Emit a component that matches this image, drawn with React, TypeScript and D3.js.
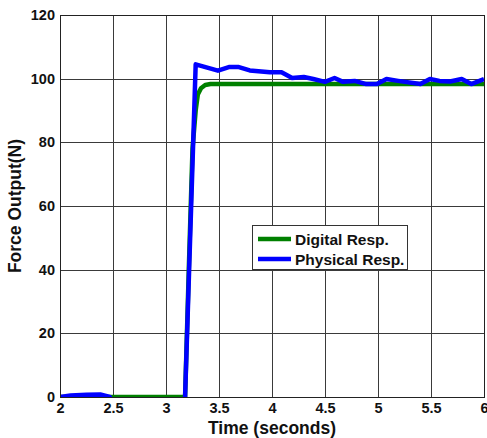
import React, { useEffect, useRef } from 'react'
import * as d3 from 'd3'

// time in seconds, force in N
const digitalT = [2, 3.18, 3.215, 3.25, 3.28, 3.3, 3.33, 3.37, 3.42, 6]
const digitalF = [0, 0, 40, 78, 90, 95, 97, 98, 98.3, 98.3]

const physicalT = [2, 2.1, 2.25, 2.38, 2.47, 2.5, 3.17, 3.18, 3.28, 3.49, 3.6, 3.68, 3.79, 3.98, 4.09, 4.19, 4.3, 4.39, 4.5, 4.59, 4.67, 4.78, 4.89, 4.99, 5.08, 5.19, 5.4, 5.49, 5.58, 5.68, 5.79, 5.88, 6]
const physicalF = [0, 0.5, 0.7, 0.8, 0, -2, -2, 0, 104.5, 102.5, 103.7, 103.7, 102.6, 102, 102, 100.2, 100.5, 99.9, 99, 100.2, 99, 99.3, 98.3, 98.3, 99.9, 99.3, 98.3, 99.9, 99.3, 99.1, 99.9, 98.3, 99.9]

const xTicks = [2, 2.5, 3, 3.5, 4, 4.5, 5, 5.5, 6]
const yTicks = [0, 20, 40, 60, 80, 100, 120]

const series = [
  { name: 'Digital Resp.', color: '#008000', t: digitalT, f: digitalF },
  { name: 'Physical Resp.', color: '#0000ff', t: physicalT, f: physicalF },
]

const App = () => {
  const ref = useRef<SVGSVGElement>(null)

  useEffect(() => {
    const svg = d3.select(ref.current)
    svg.selectAll('*').remove()

    const left = 60, right = 484, top = 15, bottom = 397
    const x = d3.scaleLinear().domain([2, 6]).range([left, right])
    const y = d3.scaleLinear().domain([0, 120]).range([bottom, top])
    const font = 'Arial, "Liberation Sans", sans-serif'

    svg.append('rect').attr('width', 487).attr('height', 438).attr('fill', '#fff')

    svg.append('defs').append('clipPath').attr('id', 'plot-clip')
      .append('rect')
      .attr('x', left).attr('y', top)
      .attr('width', right - left).attr('height', bottom - top)

    // grid
    const grid = svg.append('g').attr('stroke', '#3a3a3a').attr('stroke-width', 1)
    xTicks.forEach(t => {
      grid.append('line')
        .attr('x1', Math.round(x(t)) + 0.5).attr('x2', Math.round(x(t)) + 0.5)
        .attr('y1', top).attr('y2', bottom)
    })
    yTicks.forEach(t => {
      grid.append('line')
        .attr('x1', left).attr('x2', right)
        .attr('y1', Math.round(y(t)) + 0.5).attr('y2', Math.round(y(t)) + 0.5)
    })

    // lines
    const plot = svg.append('g').attr('clip-path', 'url(#plot-clip)')
    series.forEach(s => {
      const pts: [number, number][] = s.t.map((t, i) => [t, s.f[i]])
      const line = d3.line<[number, number]>().x(d => x(d[0])).y(d => y(d[1]))
      plot.append('path')
        .attr('d', line(pts))
        .attr('fill', 'none')
        .attr('stroke', s.color)
        .attr('stroke-width', 4.5)
        .attr('stroke-linejoin', 'round')
    })

    // box
    svg.append('rect')
      .attr('x', left + 0.5).attr('y', top + 0.5)
      .attr('width', right - left).attr('height', bottom - top)
      .attr('fill', 'none').attr('stroke', '#222').attr('stroke-width', 1)

    // axes labels
    const xAxis = d3.axisBottom(x).tickValues(xTicks).tickSize(0).tickPadding(6).tickFormat(d => String(d))
    const xg = svg.append('g').attr('transform', `translate(0,${bottom})`).call(xAxis)
    xg.select('.domain').remove()
    xg.selectAll('text').attr('font-family', font).attr('font-size', 14.5).attr('font-weight', 'bold').attr('fill', '#111')

    const yAxis = d3.axisLeft(y).tickValues(yTicks).tickSize(0).tickPadding(5).tickFormat(d => String(d))
    const yg = svg.append('g').attr('transform', `translate(${left},0)`).call(yAxis)
    yg.select('.domain').remove()
    yg.selectAll('text').attr('font-family', font).attr('font-size', 14.5).attr('font-weight', 'bold').attr('fill', '#111')

    svg.append('text')
      .text('Time (seconds)')
      .attr('x', 272).attr('y', 434)
      .attr('text-anchor', 'middle')
      .attr('font-family', font).attr('font-size', 17.5).attr('font-weight', 'bold').attr('fill', '#111')

    svg.append('text')
      .text('Force Output(N)')
      .attr('transform', `translate(21,206) rotate(-90)`)
      .attr('text-anchor', 'middle')
      .attr('font-family', font).attr('font-size', 17.5).attr('font-weight', 'bold').attr('fill', '#111')

    // legend
    const lg = svg.append('g')
    lg.append('rect')
      .attr('x', 252.5).attr('y', 225.5).attr('width', 155).attr('height', 44)
      .attr('fill', '#fff').attr('stroke', '#333').attr('stroke-width', 1)
    series.forEach((s, i) => {
      const ly = 239 + i * 20
      lg.append('line')
        .attr('x1', 258).attr('x2', 291).attr('y1', ly).attr('y2', ly)
        .attr('stroke', s.color).attr('stroke-width', 4.5)
      lg.append('text')
        .text(s.name)
        .attr('x', 295).attr('y', ly + 5.5)
        .attr('font-family', font).attr('font-size', 15.5).attr('font-weight', 'bold').attr('fill', '#111')
    })
  }, [])

  return <svg ref={ref} width={487} height={438} style={{ display: 'block', position: 'absolute', left: 0, top: 0 }} />
}

export default App
